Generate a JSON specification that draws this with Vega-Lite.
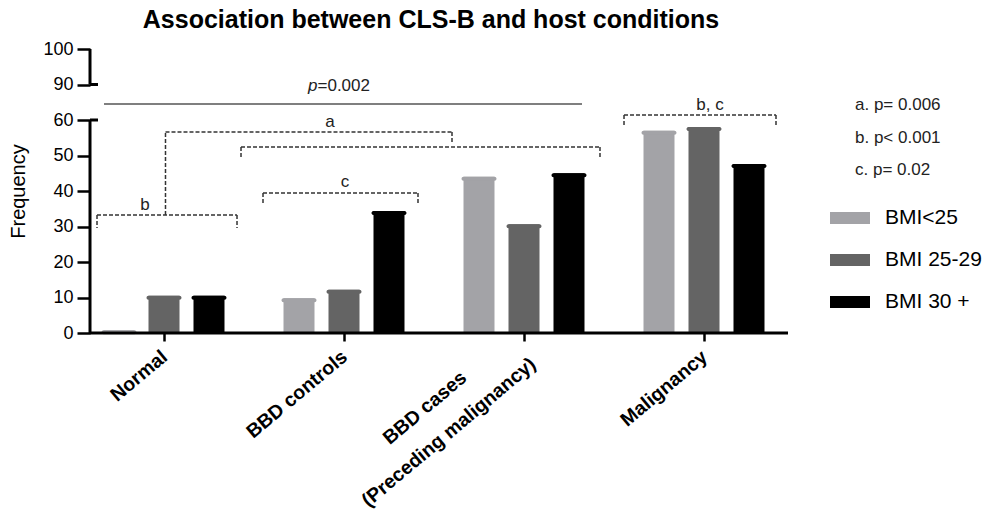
{
  "$schema": "https://vega.github.io/schema/vega-lite/v6.json",
  "width": 698,
  "height": 284,
  "autosize": {"type": "none"},
  "padding": {"left": 90, "top": 49, "right": 205, "bottom": 177},
  "background": "white",
  "config": {"view": {"stroke": null}, "font": "Liberation Sans", "axis": {"grid": false}},
  "title": {"text": "Association between CLS-B and host conditions", "fontSize": 25, "fontWeight": "bold", "font": "Liberation Sans", "color": "black", "anchor": "middle", "frame": "group", "dx": -8, "dy": 24, "offset": 11, "baseline": "alphabetic"},
  "datasets": {
    "bars": [
      {"condition": "Normal", "bmi": "BMI<25", "frequency": 0.8},
      {"condition": "Normal", "bmi": "BMI 25-29", "frequency": 10.5},
      {"condition": "Normal", "bmi": "BMI 30 +", "frequency": 10.5},
      {"condition": "BBD controls", "bmi": "BMI<25", "frequency": 9.8},
      {"condition": "BBD controls", "bmi": "BMI 25-29", "frequency": 12.2},
      {"condition": "BBD controls", "bmi": "BMI 30 +", "frequency": 34.4},
      {"condition": "BBD cases (Preceding malignancy)", "bmi": "BMI<25", "frequency": 44},
      {"condition": "BBD cases (Preceding malignancy)", "bmi": "BMI 25-29", "frequency": 30.6},
      {"condition": "BBD cases (Preceding malignancy)", "bmi": "BMI 30 +", "frequency": 45},
      {"condition": "Malignancy", "bmi": "BMI<25", "frequency": 57},
      {"condition": "Malignancy", "bmi": "BMI 25-29", "frequency": 58},
      {"condition": "Malignancy", "bmi": "BMI 30 +", "frequency": 47.6}
    ],
    "axisLines": [
      {"gx": -0.4111, "gx2": -0.4111, "v": 0, "v2": 60},
      {"gx": -0.4111, "gx2": -0.4111, "v": 70, "v2": 80},
      {"gx": -0.4111, "gx2": -0.3667, "v": 60, "v2": 60},
      {"gx": -0.4111, "gx2": -0.3667, "v": 70, "v2": 70}
    ],
    "brackets": [
      {"gx": -0.3722, "gx2": 0.4056, "v": 33.24, "v2": 33.24},
      {"gx": -0.3722, "gx2": -0.3722, "v": 33.24, "v2": 29.58},
      {"gx": 0.4056, "gx2": 0.4056, "v": 33.24, "v2": 29.58},
      {"gx": 0.0083, "gx2": 0.0083, "v": 33.24, "v2": 56.62},
      {"gx": 0.0083, "gx2": 1.6, "v": 56.62, "v2": 56.62},
      {"gx": 1.6, "gx2": 1.6, "v": 56.62, "v2": 53.8},
      {"gx": 0.4278, "gx2": 2.4222, "v": 52.39, "v2": 52.39},
      {"gx": 0.4278, "gx2": 0.4278, "v": 52.39, "v2": 49.3},
      {"gx": 2.4222, "gx2": 2.4222, "v": 52.39, "v2": 49.3},
      {"gx": 0.55, "gx2": 1.4111, "v": 39.44, "v2": 39.44},
      {"gx": 0.55, "gx2": 0.55, "v": 39.44, "v2": 36.62},
      {"gx": 1.4111, "gx2": 1.4111, "v": 39.44, "v2": 36.62},
      {"gx": 2.5556, "gx2": 3.4, "v": 61.41, "v2": 61.41},
      {"gx": 2.5556, "gx2": 2.5556, "v": 61.41, "v2": 58.03},
      {"gx": 3.4, "gx2": 3.4, "v": 61.41, "v2": 58.03}
    ],
    "pLine": [
      {"gx": -0.3333, "gx2": 2.3222, "v": 64.51, "italic": "p", "rest": "=0.002", "lx": 0.8528, "lv": 69.58}
    ],
    "bracketLabels": [
      {"gx": -0.1056, "v": 36.06, "label": "b"},
      {"gx": 0.9222, "v": 59.44, "label": "a"},
      {"gx": 1.0056, "v": 42.54, "label": "c"},
      {"gx": 3.0333, "v": 64.23, "label": "b, c"}
    ],
    "notes": [
      {"gx": 3.8389, "v": 64.23, "label": "a. p= 0.006"},
      {"gx": 3.8389, "v": 54.93, "label": "b. p< 0.001"},
      {"gx": 3.8389, "v": 45.92, "label": "c. p= 0.02"}
    ],
    "xLabelLines": [
      {"gx": 1.45, "v": -21.1, "label": "BBD cases"},
      {"gx": 1.583, "v": -28.0, "label": "(Preceding malignancy)"}
    ]
  },
  "layer": [
    {
      "data": {"name": "bars"},
      "encoding": {
        "x": {
          "field": "condition", "type": "nominal", "title": null,
          "sort": ["Normal", "BBD controls", "BBD cases (Preceding malignancy)", "Malignancy"],
          "scale": {"range": [-16, 704], "paddingInner": 0, "paddingOuter": 0},
          "axis": {
            "title": null, "domain": false, "tickSize": 8, "tickWidth": 2.5, "tickColor": "black",
            "labelAngle": -40, "labelAlign": "right", "labelBaseline": "top", "labelFontSize": 19.5,
            "labelFontWeight": "bold", "labelColor": "black", "labelPadding": 6, "labelOffset": -5, "labelLimit": 500,
            "labelOverlap": false,
            "labelExpr": "datum.value == 'BBD cases (Preceding malignancy)' ? '' : datum.label"
          }
        },
        "xOffset": {"field": "bmi", "type": "nominal", "sort": ["BMI<25", "BMI 25-29", "BMI 30 +"], "scale": {"paddingInner": 0.311, "paddingOuter": 0.6556}},
        "y": {
          "field": "frequency", "type": "quantitative", "title": "Frequency",
          "scale": {"domain": [0, 80], "nice": false},
          "axis": {
            "values": [0, 10, 20, 30, 40, 50, 60, 70, 80],
            "labelExpr": "datum.value == 70 ? '90' : datum.value == 80 ? '100' : datum.label",
            "labelOverlap": false,
            "domain": false, "tickSize": 13, "tickWidth": 2.5, "tickColor": "black",
            "labelFontSize": 18, "labelColor": "black", "labelPadding": 4,
            "title": "Frequency", "titleFontSize": 20, "titleFontWeight": "normal", "titleColor": "black",
            "titleX": -62, "titleY": 142, "titleAlign": "center", "titleBaseline": "bottom", "titleAngle": -90
          }
        },
        "color": {
          "field": "bmi", "type": "nominal",
          "scale": {"domain": ["BMI<25", "BMI 25-29", "BMI 30 +"], "range": ["#a3a3a7", "#646464", "#000000"]},
          "legend": {
            "orient": "none", "legendX": 740, "legendY": 149, "title": null, "padding": 0,
            "labelFontSize": 21, "labelFont": "Liberation Sans", "labelColor": "black", "labelOffset": 15,
            "symbolType": "M-1,-0.3H1V0.3H-1Z", "symbolSize": 1600, "symbolStrokeWidth": 0, "symbolOpacity": 1,
            "rowPadding": 12
          }
        }
      },
      "layer": [
        {"mark": {"type": "bar", "opacity": 1}},
        {"mark": {"type": "tick", "thickness": 4, "size": 35, "cornerRadius": 2, "yOffset": 2, "opacity": 1}}
      ]
    },
    {
      "encoding": {
        "x": {"field": "gx", "type": "quantitative", "scale": {"domain": [-0.5, 3.5], "range": [-16, 704], "nice": false, "zero": false}, "axis": null},
        "y": {"field": "v", "type": "quantitative", "scale": {"domain": [0, 80], "nice": false}, "axis": null}
      },
      "layer": [
        {
          "data": {"name": "brackets"},
          "mark": {"type": "rule", "strokeWidth": 1.5, "color": "#333333", "strokeDash": [4, 2]},
          "encoding": {"x2": {"field": "gx2"}, "y2": {"field": "v2"}}
        },
        {
          "data": {"name": "pLine"},
          "mark": {"type": "rule", "strokeWidth": 1.2, "color": "black"},
          "encoding": {"x2": {"field": "gx2"}}
        },
        {
          "data": {"name": "pLine"},
          "mark": {"type": "text", "fontSize": 17, "color": "#222222", "align": "right", "baseline": "middle", "fontStyle": "italic"},
          "encoding": {"x": {"field": "lx", "type": "quantitative", "scale": {"domain": [-0.5, 3.5], "range": [-16, 704], "nice": false, "zero": false}, "axis": null}, "y": {"field": "lv", "type": "quantitative", "scale": {"domain": [0, 80], "nice": false}, "axis": null}, "text": {"field": "italic"}}
        },
        {
          "data": {"name": "pLine"},
          "mark": {"type": "text", "fontSize": 17, "color": "#222222", "align": "left", "baseline": "middle"},
          "encoding": {"x": {"field": "lx", "type": "quantitative", "scale": {"domain": [-0.5, 3.5], "range": [-16, 704], "nice": false, "zero": false}, "axis": null}, "y": {"field": "lv", "type": "quantitative", "scale": {"domain": [0, 80], "nice": false}, "axis": null}, "text": {"field": "rest"}}
        },
        {
          "data": {"name": "pLine"},
          "mark": {"type": "rule", "strokeWidth": 3, "color": "black"},
          "encoding": {"x": null, "y": {"datum": 0, "type": "quantitative", "scale": {"domain": [0, 80], "nice": false}, "axis": null}}
        },
        {
          "data": {"name": "axisLines"},
          "mark": {"type": "rule", "strokeWidth": 3, "color": "black"},
          "encoding": {"x2": {"field": "gx2"}, "y2": {"field": "v2"}}
        },
        {
          "data": {"name": "bracketLabels"},
          "mark": {"type": "text", "fontSize": 17, "color": "#222222", "baseline": "middle"},
          "encoding": {"text": {"field": "label"}}
        },
        {
          "data": {"name": "notes"},
          "mark": {"type": "text", "fontSize": 17, "color": "#222222", "align": "left", "baseline": "middle"},
          "encoding": {"text": {"field": "label"}}
        },
        {
          "data": {"name": "xLabelLines"},
          "mark": {"type": "text", "fontSize": 19.5, "fontWeight": "bold", "color": "black", "align": "center", "baseline": "middle", "angle": 320},
          "encoding": {"text": {"field": "label"}}
        }
      ]
    }
  ],
  "resolve": {"scale": {"x": "independent"}, "axis": {"y": "independent"}}
}
